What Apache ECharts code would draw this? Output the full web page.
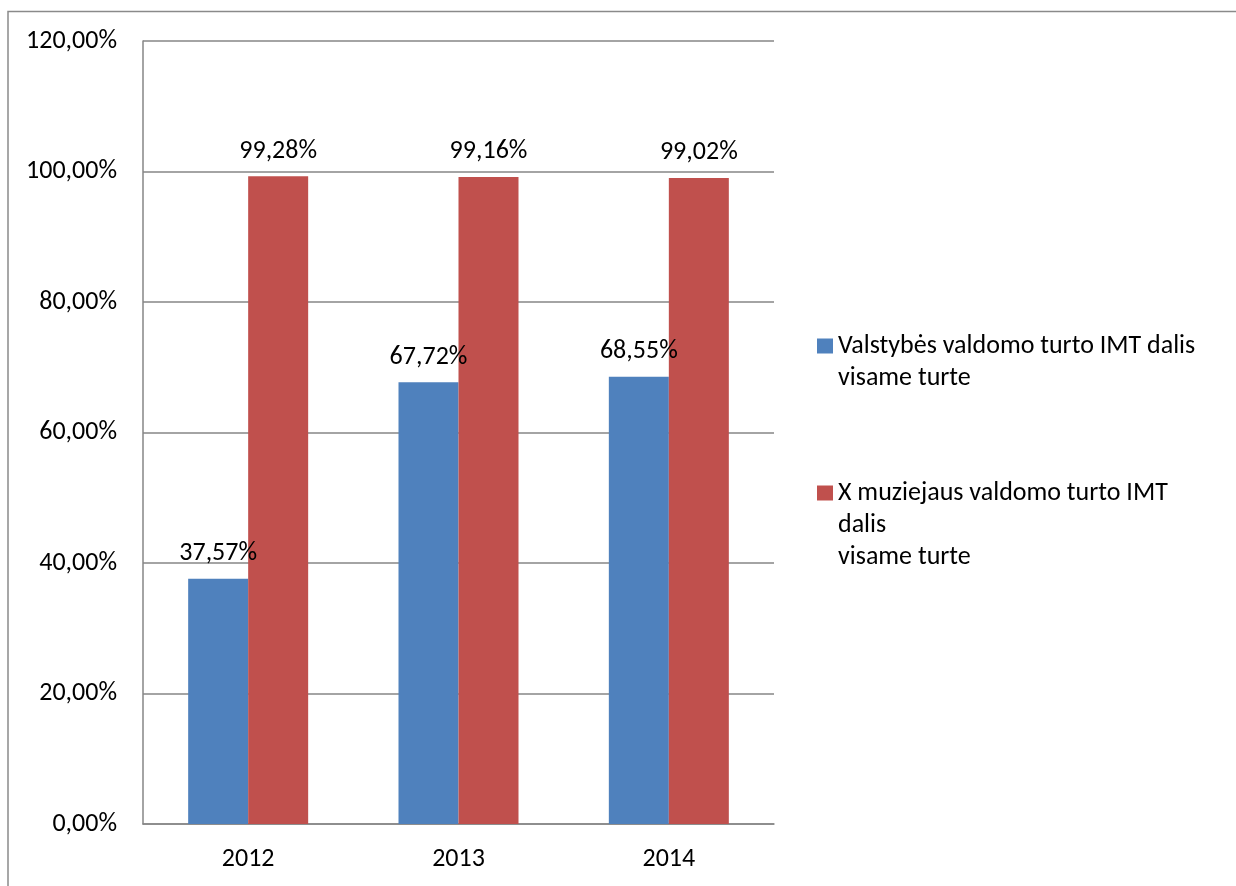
<!DOCTYPE html>
<html>
<head>
<meta charset="utf-8">
<script src="https://cdn.jsdelivr.net/npm/echarts@6/dist/echarts.min.js"></script>
<style>
html,body{margin:0;padding:0;background:#fff;}
#chart{width:1236px;height:886px;}
</style>
</head>
<body>
<div id="chart"></div>
<script>
const categories = ['2012', '2013', '2014'];
const seriesNames = ['Valstybės valdomo turto IMT dalis\nvisame turte', 'X muziejaus valdomo turto IMT\ndalis\nvisame turte'];
const valstybesValues = [37.57, 67.72, 68.55];
const muziejausValues = [99.28, 99.16, 99.02];
const yTicks = { min: 0, max: 120, interval: 20 };

const FONT = 'Carlito, Lato, sans-serif';
const FS = 26;
const fmt = v => Number(v).toFixed(2).replace('.', ',') + '%';

const chart = echarts.init(document.getElementById('chart'), null, { renderer: 'canvas' });
chart.setOption({
  animation: false,
  backgroundColor: '#fff',
  textStyle: { fontFamily: FONT },
  graphic: [{
    type: 'polyline',
    shape: { points: [[8, 900], [8, 11.5], [1240, 11.5]] },
    style: { fill: 'none', stroke: '#8a8a8a', lineWidth: 1.5 },
    silent: true
  }],
  grid: { left: 143, right: 462, top: 41, bottom: 62 },
  legend: [{
    orient: 'vertical',
    left: 817, top: 298, padding: 0,
    itemWidth: 16, itemHeight: 15,
    selectedMode: false,
    data: [{ name: seriesNames[0], icon: 'rect' }],
    formatter: name => '\n' + name,
    textStyle: { fontSize: FS, color: '#000', fontFamily: FONT, lineHeight: 32 }
  }, {
    orient: 'vertical',
    left: 817, top: 413, padding: 0,
    itemWidth: 16, itemHeight: 15,
    selectedMode: false,
    data: [{ name: seriesNames[1], icon: 'rect' }],
    formatter: name => '\n\n' + name,
    textStyle: { fontSize: FS, color: '#000', fontFamily: FONT, lineHeight: 32 }
  }],
  xAxis: {
    type: 'category',
    data: categories,
    axisLine: { show: true, lineStyle: { color: '#868686', width: 1.5 } },
    axisTick: { show: false },
    axisLabel: { fontSize: FS, color: '#000', margin: 22, fontFamily: FONT }
  },
  yAxis: {
    type: 'value',
    min: yTicks.min, max: yTicks.max, interval: yTicks.interval,
    axisLine: { show: true, lineStyle: { color: '#868686', width: 1.5 } },
    axisTick: { show: false },
    splitLine: { show: true, lineStyle: { color: '#868686', width: 1.5 } },
    axisLabel: { fontSize: FS, color: '#000', margin: 26, fontFamily: FONT, formatter: fmt }
  },
  series: [{
    name: seriesNames[0],
    type: 'bar',
    data: valstybesValues,
    barWidth: 60,
    barGap: '0%',
    itemStyle: { color: '#4F81BD' },
    label: { show: true, position: 'top', distance: 12, fontSize: FS, color: '#000', fontFamily: FONT, formatter: p => fmt(p.value) }
  }, {
    name: seriesNames[1],
    type: 'bar',
    data: muziejausValues,
    barWidth: 60,
    barGap: '0%',
    itemStyle: { color: '#C0504D' },
    label: { show: true, position: 'top', distance: 12, fontSize: FS, color: '#000', fontFamily: FONT, formatter: p => fmt(p.value) }
  }]
});
</script>
</body>
</html>
